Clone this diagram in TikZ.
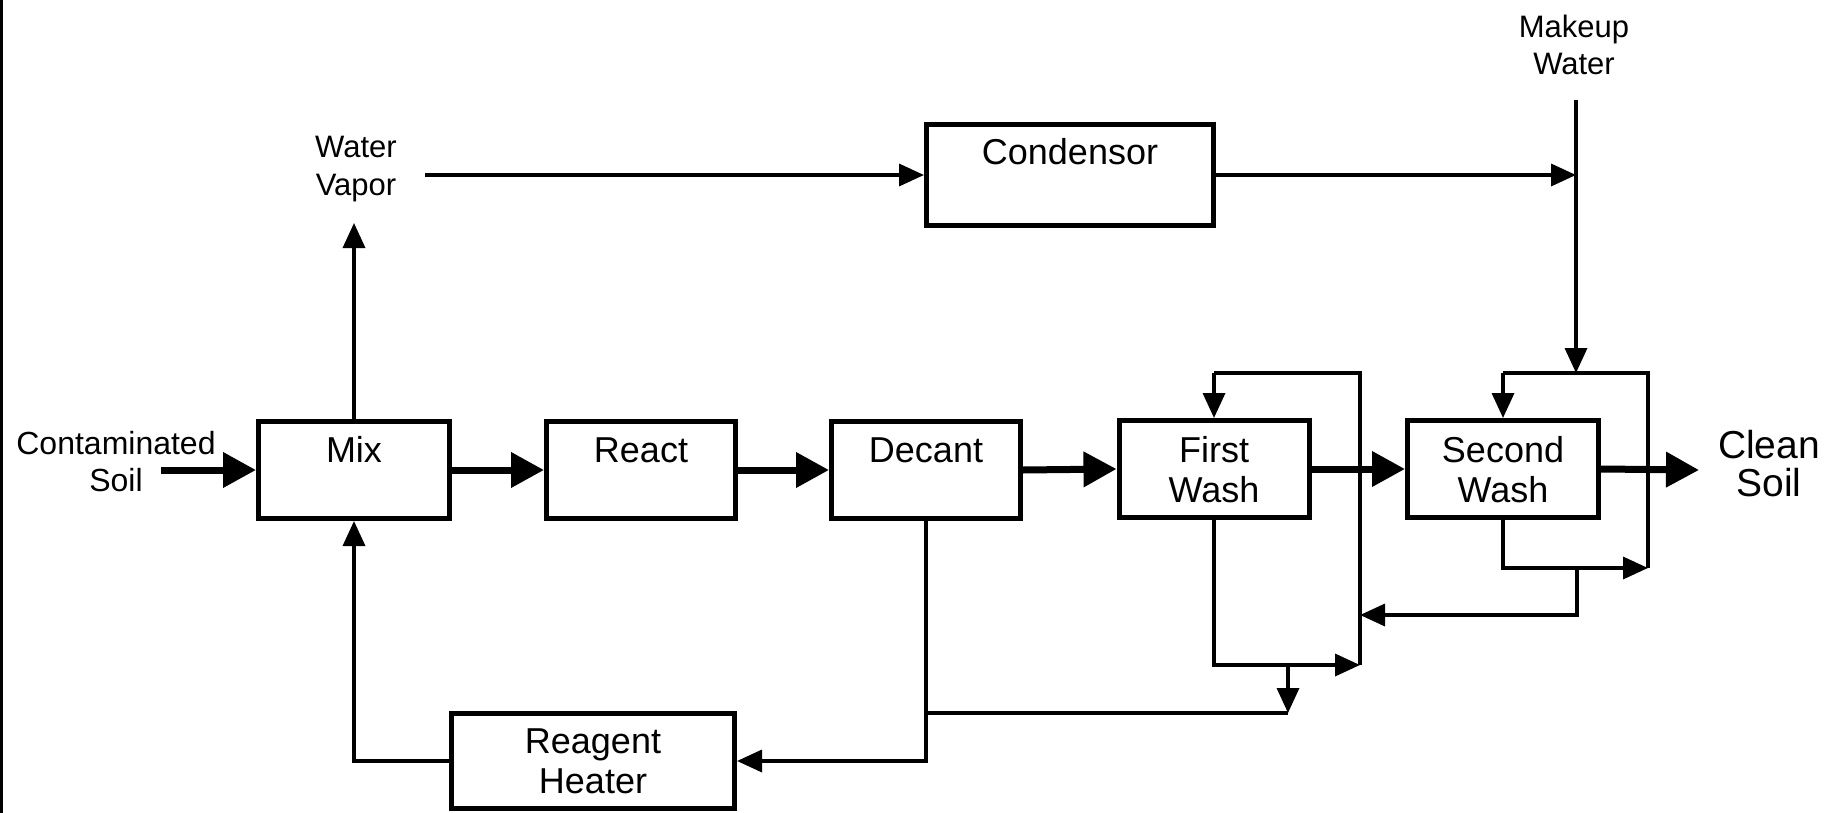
\documentclass[tikz,border=0pt]{standalone}
\usepackage{fontspec}
\setmainfont{Liberation Sans}
\usetikzlibrary{arrows.meta}
\begin{document}
\begin{tikzpicture}[x=1pt,y=-1pt,
  box/.style={draw, line width=5pt, minimum height=97pt, inner sep=0pt},
  lbl/.style={font=\fontsize{36}{40}\selectfont, align=center, inner sep=0pt, anchor=base},
  thinline/.style={line width=3.5pt},
  thickline/.style={line width=7pt},
  sarrow/.style={thinline, -{Triangle[length=25pt,width=22pt]}},
  barrow/.style={thickline, -{Triangle[length=33pt,width=34pt]}},
]
\useasboundingbox (0,0) rectangle (1835,813);
\draw[line width=3pt] (1.5,0) -- (1.5,813);

% boxes
\node[box, minimum width=191pt] (mix) at (354,470) {};
\node[box, minimum width=189pt] (react) at (641,470) {};
\node[box, minimum width=189pt] (decant) at (926,470) {};
\node[box, minimum width=190pt] (wash1) at (1214,469) {};
\node[box, minimum width=191pt] (wash2) at (1503,469) {};
\node[box, minimum width=287pt, minimum height=100pt] (cond) at (1070,175) {};
\node[box, minimum width=283pt, minimum height=95pt] (heater) at (593,761) {};

% box labels (anchor=base is the baseline of the last line)
\node[lbl] (mixl) at (354,462) {Mix};
\node[lbl] (reactl) at (641,462) {React};
\node[lbl] (decantl) at (926,462) {Decant};
\node[lbl] (wash1l) at (1214,502) {First\\Wash};
\node[lbl] (wash2l) at (1503,502) {Second\\Wash};
\node[lbl] (condl) at (1070,165) {Condensor};
\node[lbl] (heatl) at (593,793) {Reagent\\Heater};

% outer labels
\node[lbl, font=\fontsize{32}{37}\selectfont] (soilin) at (116,491) {Contaminated\\Soil};
\node[lbl, font=\fontsize{39}{38}\selectfont] (soilout) at (1769,496) {Clean\\Soil};
\node[lbl, font=\fontsize{31}{38}\selectfont] (vapor) at (356,196) {Water\\Vapor};
\node[lbl, font=\fontsize{31}{37}\selectfont] (makeup) at (1574,75) {Makeup\\Water};

% coordinates
\coordinate (cin) at (161,470);
\coordinate (cout) at (1699,470);
\coordinate (vaptip) at (355,223);
\coordinate (vapstart) at (425,175);
\coordinate (mk) at (1576,175);
\coordinate (mktop) at (1576,100);
\coordinate (loopy) at (1576,373);
\coordinate (l2r) at (1648,373);
\coordinate (l2rb) at (1648,568);
\coordinate (w2j) at (1577,568);
\coordinate (w2k) at (1577,615);
\coordinate (l1m) at (1360,615);
\coordinate (l1r) at (1360,373);
\coordinate (l1b) at (1360,665);
\coordinate (w1j) at (1288,665);
\coordinate (w1k) at (1288,713);
\coordinate (dj) at (927,713);

% main flow
\draw[barrow] (cin) -- (mix.west);
\draw[barrow] (mix.east) -- (react.west);
\draw[barrow] (react.east) -- (decant.west);
\draw[barrow] (decant.east) -- (wash1.west);
\draw[barrow] (wash1.east) -- (wash2.west);
\draw[barrow] (wash2.east) -- (cout);

% vapor / condensor / makeup
\draw[sarrow] (mix.north) -- (mix.north |- vaptip);
\draw[sarrow] (vapstart) -- (cond.west);
\draw[sarrow] (cond.east) -- (mk);
\draw[sarrow] (mktop) -- (loopy);

% second wash loop
\draw[thinline] (wash2.north |- loopy) -- (l2r) -- (l2rb);
\draw[sarrow] (wash2.north |- loopy) -- (wash2.north);
\draw[sarrow] (wash2.south) |- (l2rb);
\draw[sarrow] (w2j) -- (w2k) -- (l1m);

% first wash loop
\draw[thinline] (wash1.north |- loopy) -- (l1r) -- (l1b);
\draw[sarrow] (wash1.north |- loopy) -- (wash1.north);
\draw[sarrow] (wash1.south) |- (l1b);
\draw[sarrow] (w1j) -- (w1k);

% decant recycle
\draw[thinline] (dj) -- (w1k);
\draw[sarrow] (decant.south) |- (heater.east);
\draw[sarrow] (heater.west) -| (mix.south);
\end{tikzpicture}
\end{document}
